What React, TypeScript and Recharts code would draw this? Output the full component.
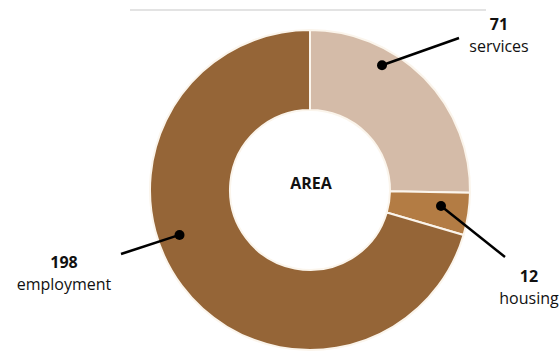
import React from 'react'
import { PieChart, Pie, Cell } from 'recharts'

const categories = ['services', 'housing', 'employment']
const values = [71, 12, 198]
const colors = ['#d4bba8', '#b37c44', '#956537']

// callout placement relative to the pie centre
const callouts = [
  { angle: 60, radius: 144, end: [149, -152], text: [189, -160] },
  { angle: -7, radius: 132, end: [195, 67], text: [219, 92] },
  { angle: 199, radius: 138, end: [-189, 64], text: [-246, 78] }
]

const data = categories.map((name, i) => ({ name, value: values[i] }))

const FONT = '"Open Sans", "Noto Sans", sans-serif'

function renderCallout(props: any): JSX.Element {
  const { cx, cy, index } = props
  const c = callouts[index]
  const rad = (c.angle * Math.PI) / 180
  const dx = cx + c.radius * Math.cos(rad)
  const dy = cy - c.radius * Math.sin(rad)
  const ex = cx + c.end[0]
  const ey = cy + c.end[1]
  const tx = cx + c.text[0]
  const ty = cy + c.text[1]
  return (
    <g key={`callout-${index}`}>
      <line x1={dx} y1={dy} x2={ex} y2={ey} stroke="#000" strokeWidth={2.5} />
      <circle cx={dx} cy={dy} r={5} fill="#000" />
      <text x={tx} y={ty} textAnchor="middle" fontFamily={FONT} fontSize={16} fontWeight={700} fill="#111">
        {props.value}
      </text>
      <text x={tx} y={ty + 22} textAnchor="middle" fontFamily={FONT} fontSize={16} fill="#111">
        {props.name}
      </text>
    </g>
  )
}

export default function App(): JSX.Element {
  return (
    <div style={{ position: 'absolute', left: 0, top: 0, width: 559, height: 354, background: '#fff' }}>
      <div style={{ position: 'absolute', left: 130, top: 9, width: 356, height: 2, background: '#e3e3e3' }} />
      <PieChart width={559} height={354}>
        <Pie
          data={data}
          dataKey="value"
          nameKey="name"
          cx={305}
          cy={185}
          innerRadius={80}
          outerRadius={160}
          startAngle={90}
          endAngle={-270}
          stroke="#fbf5ec"
          strokeWidth={2}
          label={renderCallout}
          labelLine={false}
          isAnimationActive={false}
        >
          {data.map((d, i) => (
            <Cell key={d.name} fill={colors[i]} />
          ))}
        </Pie>
        <text x={311} y={189} textAnchor="middle" fontFamily={FONT} fontSize={16} fontWeight={700} fill="#111">
          AREA
        </text>
      </PieChart>
    </div>
  )
}
